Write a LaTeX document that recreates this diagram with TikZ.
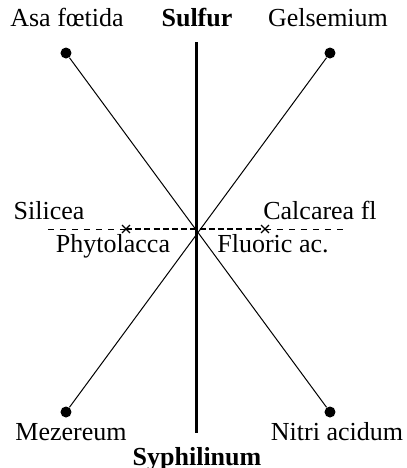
\documentclass[tikz,border=0pt]{standalone}
\usepackage{fontspec}
\setmainfont{Liberation Serif}
\usetikzlibrary{positioning, shapes.misc}

\begin{document}
\begin{tikzpicture}[
    x=0.5pt, y=-0.5pt,
    every node/.style={font=\fontsize{13}{15}\selectfont},
    lbl/.style={inner sep=0pt, anchor=base},
    rem/.style={lbl, font=\fontsize{13}{15}\selectfont\bfseries},
    dot/.style={circle, fill, inner sep=0pt, minimum size=5.5pt},
    xmark/.style={cross out, draw, inner sep=0pt, minimum size=3.2pt, line width=0.7pt},
    axis/.style={line width=1.5pt},
    diag/.style={line width=0.5pt},
    weak/.style={line width=0.5pt, dash pattern=on 3pt off 3pt},
    strong/.style={line width=1.1pt, dash pattern=on 3pt off 1.6pt},
]
    \useasboundingbox (0,0) rectangle (407,468);

    % Main axis.
    \coordinate (top) at (197,42);
    \coordinate (bot) at (197,433);
    \coordinate (mid) at (197,229);
    \draw[axis] (top) -- (bot);

    % Crossing pairs.
    \node[dot] (asa) at (66,53)  {};
    \node[dot] (gel) at (330,53) {};
    \node[dot] (mez) at (66,412) {};
    \node[dot] (nit) at (330,412) {};
    \draw[diag] (asa) -- (nit);
    \draw[diag] (gel) -- (mez);

    % Dashed line.
    \coordinate (wl) at (48,229);
    \coordinate (wr) at (345,229);
    \node[xmark] (phy) at (126,229) {};
    \node[xmark] (flu) at (265,229) {};
    \draw[weak] (wl) -- (phy.center);
    \draw[strong] (phy.center) -- (flu.center);
    \draw[weak] (flu.center) -- (wr);

    % Labels.
    \node[lbl] (asaL) at (67,26)   {Asa fœtida};
    \node[rem] (sul)  at (197,26)  {Sulfur};
    \node[lbl] (gelL) at (328,26)  {Gelsemium};
    \node[lbl] (sil)  at (49,219)  {Silicea};
    \node[lbl] (cal)  at (320,219) {Calcarea fl};
    \node[lbl] (phyL) at (113,252) {Phytolacca};
    \node[lbl] (fluL) at (273,252) {Fluoric ac.};
    \node[lbl] (mezL) at (71,440)  {Mezereum};
    \node[lbl] (nitL) at (337,440) {Nitri acidum};
    \node[rem] (syp)  at (197,465) {Syphilinum};
\end{tikzpicture}
\end{document}
